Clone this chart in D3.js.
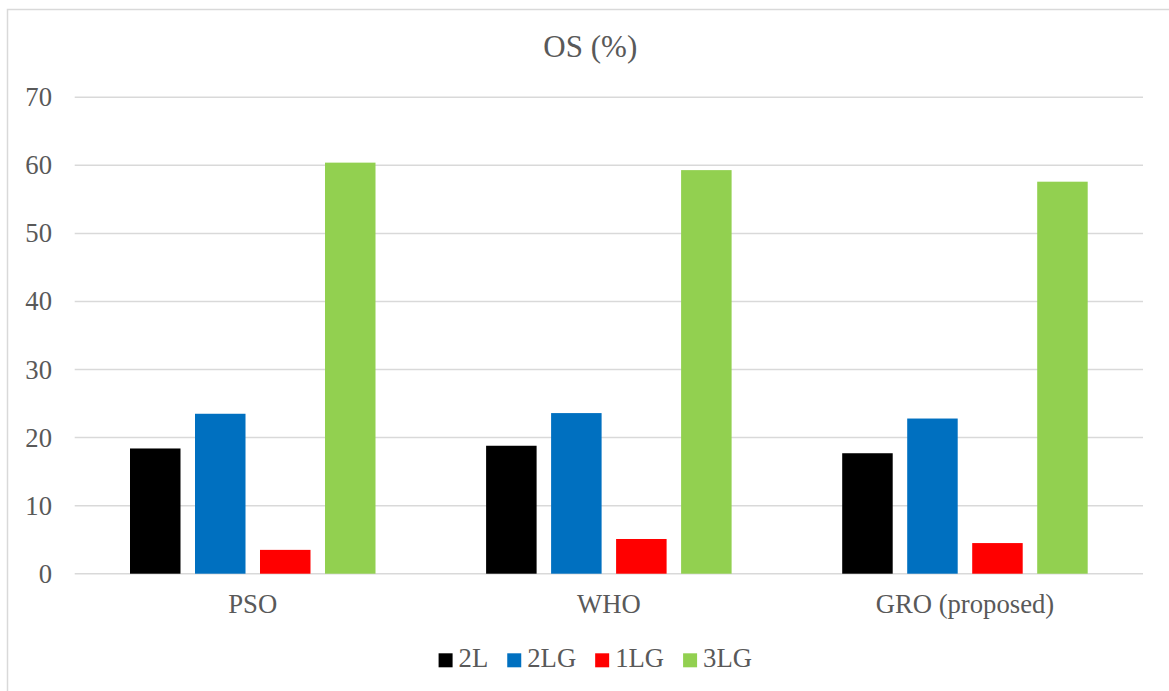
<!DOCTYPE html>
<html>
<head>
<meta charset="utf-8">
<script src="https://cdn.jsdelivr.net/npm/d3@7"></script>
<style>
  html, body { margin: 0; padding: 0; background: #fff; }
  svg { display: block; }
</style>
</head>
<body>
<svg id="chart" width="1169" height="691"></svg>
<script>
// Optimizers compared and the OS (%) reached by each series
const categories = ["PSO", "WHO", "GRO (proposed)"];
const seriesNames = ["2L", "2LG", "1LG", "3LG"];
const seriesColors = ["#000000", "#0070C0", "#FF0000", "#92D050"];
const values2L  = [18.4, 18.8, 17.7];
const values2LG = [23.5, 23.6, 22.8];
const values1LG = [3.5, 5.1, 4.5];
const values3LG = [60.4, 59.3, 57.6];
const yTicks = [0, 10, 20, 30, 40, 50, 60, 70];
const titleText = "OS (%)";

const seriesValues = [values2L, values2LG, values1LG, values3LG];
const serif = "Liberation Serif, DejaVu Serif, serif";
const textColor = "#595959";

const svg = d3.select("#chart")
  .style("font-family", serif);

// outer frame
svg.append("rect")
  .attr("x", 7.5).attr("y", 9.5)
  .attr("width", 1200).attr("height", 720)
  .attr("fill", "none")
  .attr("stroke", "#d9d9d9")
  .attr("stroke-width", 1.5);

const plot = { left: 74.7, right: 1143, top: 97.3, bottom: 573.7 };

const y = d3.scaleLinear().domain([0, 70]).range([plot.bottom, plot.top]);

const x0 = d3.scaleBand()
  .domain(categories)
  .range([plot.left, plot.right])
  .padding(0);

const groupPad = 55.3;
const x1 = d3.scaleBand()
  .domain(seriesNames)
  .range([groupPad, x0.bandwidth() - groupPad])
  .paddingInner(0.223)
  .paddingOuter(0);

// horizontal gridlines
svg.append("g")
  .selectAll("line")
  .data(yTicks)
  .join("line")
  .attr("x1", plot.left).attr("x2", plot.right)
  .attr("y1", d => y(d)).attr("y2", d => y(d))
  .attr("stroke", "#d9d9d9")
  .attr("stroke-width", 1.5);

// y tick labels
svg.append("g")
  .selectAll("text")
  .data(yTicks)
  .join("text")
  .attr("x", 52)
  .attr("y", d => y(d) + 9)
  .attr("text-anchor", "end")
  .style("font-family", serif)
  .attr("font-size", "26.7px")
  .attr("fill", textColor)
  .text(d => d);

// bars
const groups = svg.append("g")
  .selectAll("g")
  .data(categories)
  .join("g")
  .attr("transform", d => `translate(${x0(d)},0)`);

groups.selectAll("rect")
  .data((c, ci) => seriesNames.map((s, si) => ({ s, si, v: seriesValues[si][ci] })))
  .join("rect")
  .attr("x", d => x1(d.s))
  .attr("width", x1.bandwidth())
  .attr("y", d => y(d.v))
  .attr("height", d => y(0) - y(d.v))
  .attr("fill", d => seriesColors[d.si]);

// category labels
svg.append("g")
  .selectAll("text")
  .data(categories)
  .join("text")
  .attr("x", d => x0(d) + x0.bandwidth() / 2)
  .attr("y", 613.3)
  .attr("text-anchor", "middle")
  .style("font-family", serif)
  .attr("font-size", "26.7px")
  .attr("fill", textColor)
  .text(d => d);

// title
svg.append("text")
  .attr("x", 590.3)
  .attr("y", 57.3)
  .attr("text-anchor", "middle")
  .style("font-family", serif)
  .attr("font-size", "31px")
  .attr("fill", textColor)
  .text(titleText);

// legend
const legend = svg.append("g");
const sq = 14, gapText = 6, gapItem = 19;
let cursor = 0;
seriesNames.forEach((name, i) => {
  const g = legend.append("g");
  g.append("rect")
    .attr("x", cursor).attr("y", -13.4)
    .attr("width", sq).attr("height", sq)
    .attr("fill", seriesColors[i]);
  const t = g.append("text")
    .attr("x", cursor + sq + gapText)
    .attr("y", 0)
    .style("font-family", serif)
    .attr("font-size", "26.7px")
    .attr("fill", textColor)
    .text(name);
  const w = t.node().getComputedTextLength();
  cursor += sq + gapText + w + gapItem;
});
const legendWidth = cursor - gapItem;
legend.attr("transform", `translate(${595.3 - legendWidth / 2}, 666.7)`);
</script>
</body>
</html>
